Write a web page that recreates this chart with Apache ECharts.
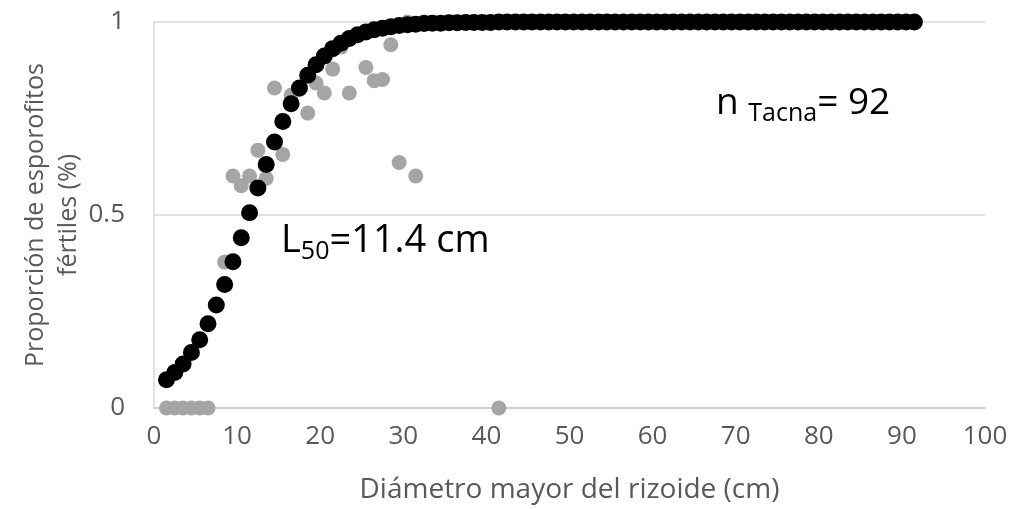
<!DOCTYPE html>
<html>
<head>
<meta charset="utf-8">
<script src="https://cdn.jsdelivr.net/npm/echarts@6.0.0/dist/echarts.min.js"></script>
<style>
html,body{margin:0;padding:0;background:#fff;}
#chart{width:1015px;height:509px;}
</style>
</head>
<body>
<div id="chart"></div>
<script>
// Observed proportions (gray)
const obsX = [1.5, 2.5, 3.5, 4.5, 5.5, 6.5, 8.5, 9.5, 10.5, 11.5, 12.5, 13.5, 14.5, 15.5, 16.5, 17.5, 18.5, 19.5, 20.5, 21.5, 22.5, 23.5, 25.5, 26.5, 27.5, 28.5, 29.5, 30.5, 31.5, 32.5, 41.5];
const obsY = [0, 0, 0, 0, 0, 0, 0.378, 0.601, 0.576, 0.601, 0.668, 0.595, 0.829, 0.657, 0.810, 0.825, 0.764, 0.842, 0.816, 0.878, 0.935, 0.816, 0.882, 0.848, 0.851, 0.941, 0.636, 1.0, 0.601, 1.0, 0];

// Fitted proportions (black)
const fitX = [1.5, 2.5, 3.5, 4.5, 5.5, 6.5, 7.5, 8.5, 9.5, 10.5, 11.5, 12.5, 13.5, 14.5, 15.5, 16.5, 17.5, 18.5, 19.5, 20.5,
  21.5, 22.5, 23.5, 24.5, 25.5, 26.5, 27.5, 28.5, 29.5, 30.5, 31.5, 32.5, 33.5, 34.5, 35.5, 36.5, 37.5, 38.5, 39.5, 40.5,
  41.5, 42.5, 43.5, 44.5, 45.5, 46.5, 47.5, 48.5, 49.5, 50.5, 51.5, 52.5, 53.5, 54.5, 55.5, 56.5, 57.5, 58.5, 59.5, 60.5,
  61.5, 62.5, 63.5, 64.5, 65.5, 66.5, 67.5, 68.5, 69.5, 70.5, 71.5, 72.5, 73.5, 74.5, 75.5, 76.5, 77.5, 78.5, 79.5, 80.5,
  81.5, 82.5, 83.5, 84.5, 85.5, 86.5, 87.5, 88.5, 89.5, 90.5, 91.5];
const fitY = [0.073, 0.092, 0.114, 0.144, 0.177, 0.218, 0.267, 0.320, 0.379, 0.441, 0.506, 0.570, 0.631, 0.689, 0.742, 0.788, 0.829, 0.862, 0.889, 0.912,
  0.931, 0.945, 0.957, 0.967, 0.974, 0.980, 0.984, 0.988, 0.991, 0.993, 0.994, 0.996, 0.997, 0.997, 0.998, 0.998, 0.999, 0.999, 0.999, 0.999,
  1, 1, 1, 1, 1, 1, 1, 1, 1, 1, 1, 1, 1, 1, 1, 1, 1, 1, 1, 1,
  1, 1, 1, 1, 1, 1, 1, 1, 1, 1, 1, 1, 1, 1, 1, 1, 1, 1, 1, 1,
  1, 1, 1, 1, 1, 1, 1, 1, 1, 1, 1];

const xTicks = [0, 10, 20, 30, 40, 50, 60, 70, 80, 90, 100];
const yTicks = [0, 0.5, 1];

const xName = 'Diámetro mayor del rizoide (cm)';
const yName = 'Proporción de esporofitos\nfértiles (%)';

const FONT = '"Open Sans", "Noto Sans", sans-serif';
const chart = echarts.init(document.getElementById('chart'), null, {renderer: 'canvas'});

const obsData = obsX.map((x, i) => [x, obsY[i]]);
const fitData = fitX.map((x, i) => [x, fitY[i]]);

chart.setOption({
  animation: false,
  backgroundColor: '#ffffff',
  grid: {left: 154, right: 30, top: 22, bottom: 99, containLabel: false},
  xAxis: {
    type: 'value', min: xTicks[0], max: xTicks[xTicks.length - 1], interval: 10,
    name: xName, nameLocation: 'middle', nameGap: 68,
    nameTextStyle: {fontFamily: FONT, fontSize: 28, color: '#595959'},
    axisLine: {show: true, lineStyle: {color: '#c8c8c8', width: 1.5}},
    axisTick: {show: false},
    axisLabel: {margin: 16, fontFamily: FONT, fontSize: 26, color: '#595959'},
    splitLine: {show: false}
  },
  yAxis: {
    type: 'value', min: yTicks[0], max: yTicks[yTicks.length - 1], interval: 0.5,
    name: yName, nameLocation: 'middle', nameGap: 69, nameMoveOverlap: false,
    nameTextStyle: {fontFamily: FONT, fontSize: 25, color: '#595959', lineHeight: 33, align: 'center'},
    axisLine: {show: true, lineStyle: {color: '#d9d9d9', width: 1.5}},
    axisTick: {show: false},
    axisLabel: {margin: 29, fontFamily: FONT, fontSize: 26, color: '#595959'},
    splitLine: {show: true, lineStyle: {color: '#d9d9d9', width: 1.5}}
  },
  graphic: [
    {
      type: 'text', left: 281, top: 222, z: 100,
      style: {
        text: '{m|L}{s|50}{m|=11.4 cm}',
        rich: {
          m: {fontFamily: FONT, fontSize: 38, color: '#000', lineHeight: 46},
          s: {fontFamily: FONT, fontSize: 25, color: '#000', lineHeight: 18, verticalAlign: 'bottom'}
        }
      }
    },
    {
      type: 'text', left: 716, top: 85, z: 100,
      style: {
        text: '{m|n }{s|Tacna}{m|= 92}',
        rich: {
          m: {fontFamily: FONT, fontSize: 37, color: '#000', lineHeight: 45},
          s: {fontFamily: FONT, fontSize: 25, color: '#000', lineHeight: 15, verticalAlign: 'bottom'}
        }
      }
    }
  ],
  series: [
    {
      type: 'scatter', name: 'obs', data: obsData, symbol: 'circle', symbolSize: 15,
      itemStyle: {color: '#a5a5a5', opacity: 1}, z: 2
    },
    {
      type: 'scatter', name: 'fit', data: fitData, symbol: 'circle', symbolSize: 17,
      itemStyle: {color: '#000000', opacity: 1}, z: 3
    }
  ]
});
</script>
</body>
</html>
